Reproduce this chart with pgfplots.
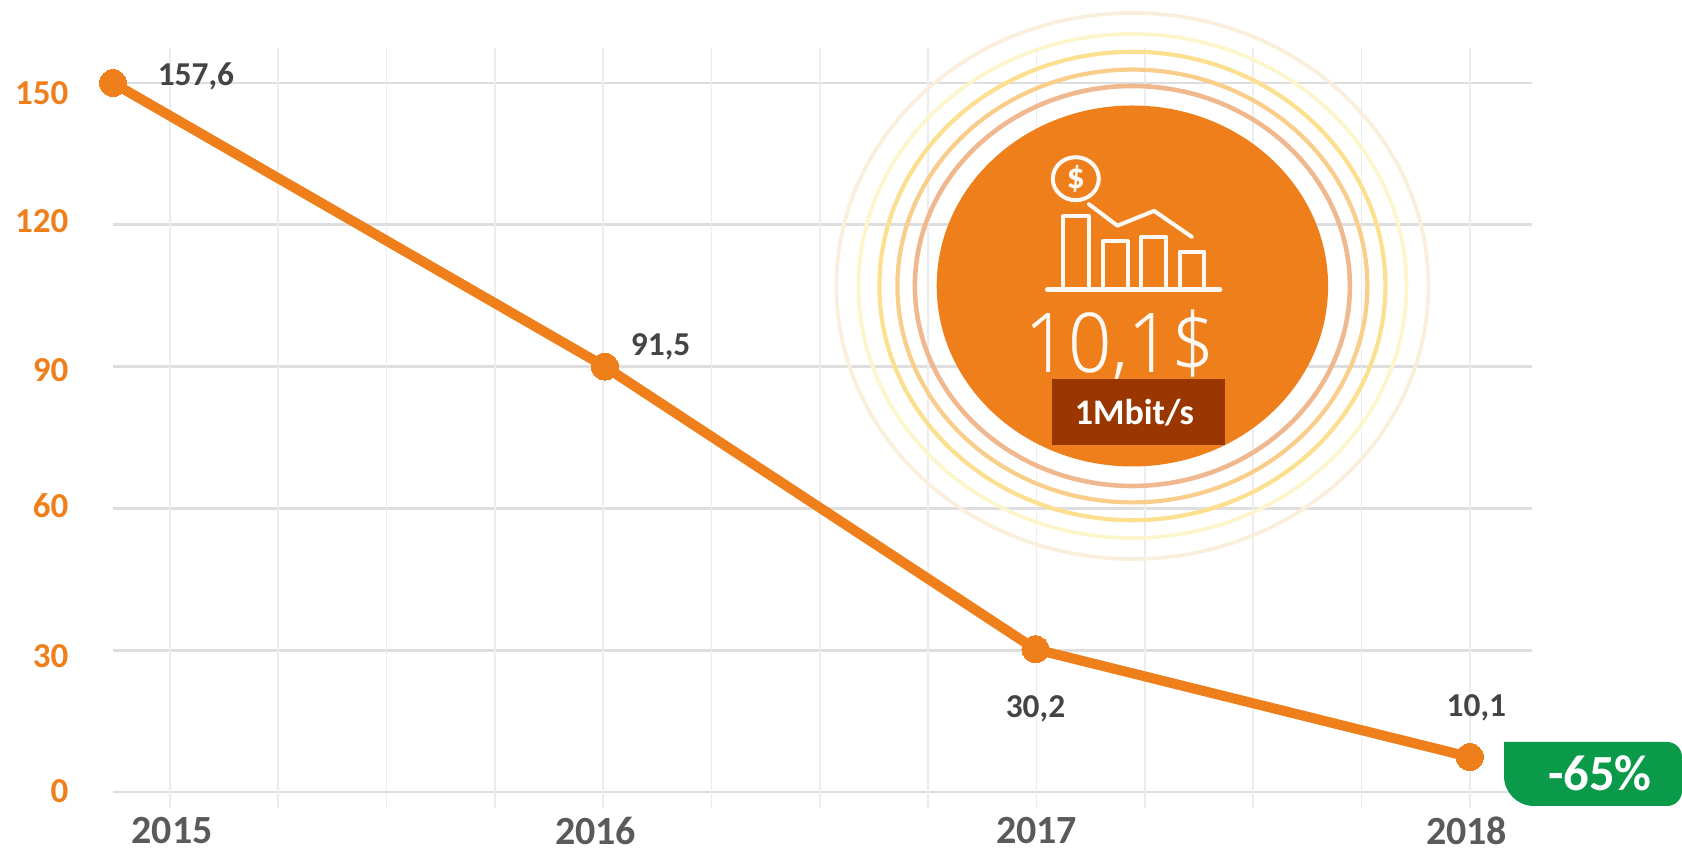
\documentclass[border=0pt]{standalone}
\usepackage{pgfplots}
\usepackage{fontspec}
\pgfplotsset{compat=1.18}
\setmainfont{Carlito}
\newfontfamily\lite[FakeBold=0.4]{Open Sans Light}
\definecolor{org}{HTML}{EE7F1B}
\definecolor{dark}{HTML}{444444}
\definecolor{yr}{HTML}{5A5A5A}
\definecolor{grn}{HTML}{0A9A4A}
\definecolor{brn}{HTML}{9A3700}
\begin{document}
\begin{tikzpicture}
\useasboundingbox (0,0) rectangle (841pt,424.5pt);
\begin{axis}[
  at={(56.5pt,20.5pt)},anchor=south west,
  scale only axis,width=709.5pt,height=380pt,
  xmin=-0.526,xmax=12.574,ymin=-3.38,ymax=157.4,
  axis line style={draw=none},clip=false,
  tick style={draw=none},major tick length=0pt,
  xtick={0.02,3.93,8,11.97},
  xticklabels={2015,2016,2017,2018},
  xticklabel style={font=\fontsize{20}{21}\selectfont\bfseries,text=yr,inner sep=0pt,yshift=-4.2pt},
  extra x ticks={0,1,2,3,4,5,6,7,8,9,10,11,12},
  extra x tick labels={},
  extra x tick style={xmajorgrids=true,grid style={draw=black!7,line width=0.8pt}},
  ytick={0,30,60,90,120,150},
  yticklabels={\raisebox{-5.4pt}[0pt][0pt]{0},\raisebox{-8.4pt}[0pt][0pt]{30},\raisebox{-4.4pt}[0pt][0pt]{60},\raisebox{-7.6pt}[0pt][0pt]{90},\raisebox{-3.9pt}[0pt][0pt]{120},\raisebox{-10.9pt}[0pt][0pt]{150}},
  yticklabel style={font=\fontsize{17.5}{18}\selectfont\bfseries,text=org,anchor=east,xshift=-18.8pt},
  ymajorgrids=true,
  y grid style={draw=black!13,line width=1.4pt},
]
\addplot[org,line width=5pt,mark=*,mark size=6.75pt,mark options={fill=org,draw=none,line width=0pt,solid}]
  coordinates {(-0.526,150) (4.015,90) (7.99,30.2) (12,7.4)};
\node[font=\fontsize{16.7}{18}\selectfont\bfseries,text=dark] at (axis cs:0.24,151.4) {157,6};
\node[font=\fontsize{16.7}{18}\selectfont\bfseries,text=dark] at (axis cs:4.53,94.2) {91,5};
\node[font=\fontsize{16.7}{18}\selectfont\bfseries,text=dark] at (axis cs:7.99,17.5) {30,2};
\node[font=\fontsize{16.7}{18}\selectfont\bfseries,text=dark] at (axis cs:12.06,17.9) {10,1};
\end{axis}
\begin{scope}[x=0.5pt,y=-0.5pt,shift={(0,424.5pt)}]
 % rings
 \draw[color={rgb,255:red,250;green,239;blue,220},line width=1.9pt] (1132.4,286) ellipse [x radius=296,y radius=273];
 \draw[color={rgb,255:red,253;green,246;blue,204},line width=1.9pt] (1132.4,286) ellipse [x radius=274,y radius=252];
 \draw[color={rgb,255:red,252;green,224;blue,143},line width=2.1pt] (1132.4,286) ellipse [x radius=253,y radius=234.2];
 \draw[color={rgb,255:red,249;green,205;blue,138},line width=2.1pt] (1132.4,286) ellipse [x radius=235,y radius=216.4];
 \draw[color={rgb,255:red,240;green,184;blue,142},line width=2.3pt] (1132.4,286) ellipse [x radius=217.5,y radius=200];
 \fill[org] (1132.4,286) ellipse [x radius=195.7,y radius=180.5];
 % icon
 \begin{scope}[white!95!org,line width=2pt,line cap=round,line join=round]
  \draw (1075.8,178.7) ellipse [x radius=23,y radius=21.5];
  \node[font=\fontsize{18}{19}\selectfont\bfseries,text=white!95!org] at (1075.8,178.7) {\$};
  \draw (1063.2,289) -- (1063.2,216.4) -- (1088.9,216.4) -- (1088.9,289);
  \draw (1102.7,289) -- (1102.7,241.2) -- (1127.6,241.2) -- (1127.6,289);
  \draw (1141,289) -- (1141,236.8) -- (1166,236.8) -- (1166,289);
  \draw (1179.8,289) -- (1179.8,251.6) -- (1204.3,251.6) -- (1204.3,289);
  \draw[line width=2.4pt] (1047.4,289.7) -- (1220,289.7);
  \draw (1088.9,204.2) -- (1117.4,225.7) -- (1154.1,210.9) -- (1191.7,236.8);
 \end{scope}
 \node[font=\lite\fontsize{38}{40}\selectfont,text=white!95!org,anchor=base,inner sep=0pt] at (1119.5,371.8) {\scalebox{1}[1.08]{10,1\$}};
 \fill[brn] (1052,379.2) rectangle (1224.5,445);
 \node[font=\fontsize{18}{19}\selectfont\bfseries,text=white] at (1134.4,412.5) {1Mbit/s};
 % badge
 \fill[grn] (1504,742) -- (1667,742) arc [start angle=90,end angle=0,x radius=15,y radius=-15] -- (1682,791) arc [start angle=0,end angle=-90,x radius=15,y radius=-15] -- (1534,806) arc [start angle=270,end angle=180,x radius=30,y radius=-30] -- cycle;
 \node[font=\fontsize{25.3}{26}\selectfont\bfseries,text=white] at (1600,773) {-65\%};
\end{scope}
\end{tikzpicture}
\end{document}
